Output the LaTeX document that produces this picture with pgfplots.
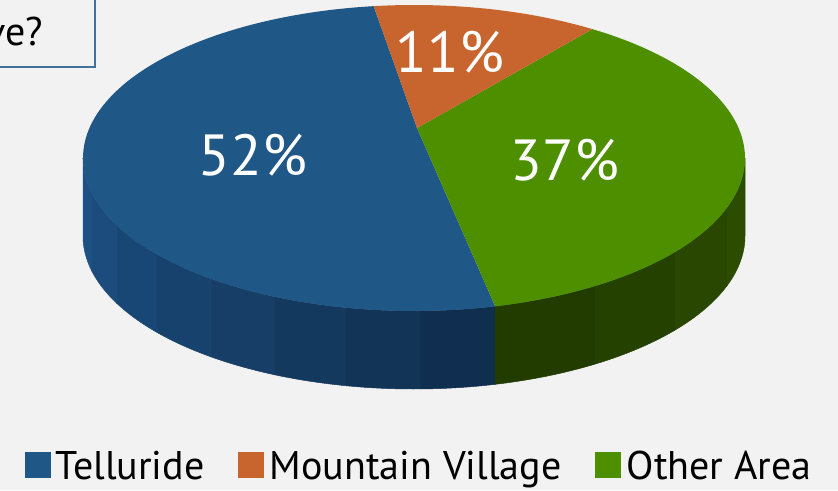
\documentclass[border=0pt]{standalone}
\usepackage{pgfplots}
\pgfplotsset{compat=1.18}
\usepackage{pgfplotstable}
\usepackage{fontspec}
\setmainfont{PT Sans}
\definecolor{bgc}{HTML}{F2F2F2}
\definecolor{cT}{HTML}{1F5787}
\definecolor{cM}{HTML}{C8652E}
\definecolor{cO}{HTML}{4E8F00}
\definecolor{sTa}{HTML}{1D5184}
\definecolor{sTb}{HTML}{102F50}
\definecolor{sOa}{HTML}{223C00}
\definecolor{sOb}{HTML}{2C4C00}
\definecolor{boxc}{HTML}{41719C}

\pgfplotstableread{
name share
Telluride 52
Mountain 11
Other 37
}\pietable
\pgfplotstablegetelem{0}{share}\of\pietable \let\vT\pgfplotsretval
\pgfplotstablegetelem{1}{share}\of\pietable \let\vM\pgfplotsretval
\pgfplotstablegetelem{2}{share}\of\pietable \let\vO\pgfplotsretval

\pgfmathsetmacro\aS{97}
\pgfmathsetmacro\aT{\aS+3.6*\vT}
\pgfmathsetmacro\aO{\aT+3.6*\vO}
\pgfmathsetmacro\aM{\aO+3.6*\vM}
\def\cx{414}\def\cy{158}\def\rx{331}\def\ry{153}\def\dep{78}
\def\px{417}\def\py{128}

% side band between rim angles #1 and #2
\newcommand\sidepiece[3]{%
\addplot[fill={#3}, draw={#3}, line width=0.5pt, forget plot,
  samples at={0,5,...,100,100.01,105,110,...,200}]
 ({\cx+\rx*cos((x<=100)?(#1+(#2-#1)*x/100):(#2-(#2-#1)*(x-100)/100))},
  {\cy-\ry*sin((x<=100)?(#1+(#2-#1)*x/100):(#2-(#2-#1)*(x-100)/100))+((x>100)?\dep:0)}) -- cycle;}

\begin{document}
\begin{tikzpicture}
\fill[bgc] (0,0) rectangle (838pt,490pt);
\begin{axis}[
  at={(0,0)}, anchor=south west,
  scale only axis, width=838pt, height=490pt,
  xmin=0, xmax=838, ymin=0, ymax=490, y dir=reverse,
  hide axis, clip=false,
  legend columns=3,
  legend style={at={(axis cs:419,466)}, anchor=center, draw=none, fill=none,
    font=\fontsize{40}{44}\selectfont, inner sep=0pt,
    /tikz/every odd column/.append style={column sep=4pt},
    /tikz/every even column/.append style={column sep=32pt}},
  legend image code/.code={\fill[#1] (0pt,-11pt) rectangle (25pt,14pt);},
]
\draw[boxc, line width=2pt] (axis cs:95,0) -- (axis cs:95,67) -- (axis cs:0,67);
\node[anchor=base east, font=\fontsize{40}{44}\selectfont, inner sep=0pt] at (axis cs:43,45) {ve?};

% sides (front half of the cylinder), banded to imitate shading
\pgfmathsetmacro\st{(\aT-180)/8}
\pgfmathsetmacro\bA{180+\st}
\pgfmathsetmacro\bB{180+2*\st}
\pgfmathsetmacro\bC{180+3*\st}
\pgfmathsetmacro\bD{180+4*\st}
\pgfmathsetmacro\bE{180+5*\st}
\pgfmathsetmacro\bF{180+6*\st}
\pgfmathsetmacro\bG{180+7*\st}
\pgfmathsetmacro\gS{(360-\aT)/4}
\pgfmathsetmacro\gA{\aT+\gS}
\pgfmathsetmacro\gB{\aT+2*\gS}
\pgfmathsetmacro\gC{\aT+3*\gS}
\sidepiece{180}{\bA}{sTa}
\sidepiece{\bA}{\bB}{sTa!86!sTb}
\sidepiece{\bB}{\bC}{sTa!71!sTb}
\sidepiece{\bC}{\bD}{sTa!57!sTb}
\sidepiece{\bD}{\bE}{sTa!43!sTb}
\sidepiece{\bE}{\bF}{sTa!29!sTb}
\sidepiece{\bF}{\bG}{sTa!14!sTb}
\sidepiece{\bG}{\aT}{sTb}
\sidepiece{\aT}{\gA}{sOa}
\sidepiece{\gA}{\gB}{sOa!67!sOb}
\sidepiece{\gB}{\gC}{sOa!33!sOb}
\sidepiece{\gC}{360}{sOb}

% top wedges
\addplot[fill=cT, draw=none, domain=\aS:\aT, samples=120, forget plot] ({\cx+\rx*cos(x)},{\cy-\ry*sin(x)}) -- (axis cs:\px,\py) -- cycle;
\addplot[fill=cO, draw=none, domain=\aT:\aO, samples=100, forget plot] ({\cx+\rx*cos(x)},{\cy-\ry*sin(x)}) -- (axis cs:\px,\py) -- cycle;
\addplot[fill=cM, draw=none, domain=\aO:\aM, samples=40, forget plot] ({\cx+\rx*cos(x)},{\cy-\ry*sin(x)}) -- (axis cs:\px,\py) -- cycle;

\node[text=white, font=\fontsize{58}{62}\selectfont] at (axis cs:253,155) {52\%};
\node[text=white, font=\fontsize{58}{62}\selectfont] at (axis cs:450,52) {11\%};
\node[text=white, font=\fontsize{58}{62}\selectfont] at (axis cs:565,160) {37\%};

\addlegendimage{cT}
\addlegendentry{Telluride}
\addlegendimage{cM}
\addlegendentry{Mountain Village}
\addlegendimage{cO}
\addlegendentry{Other Area}
\end{axis}
\pgfresetboundingbox
\path[use as bounding box] (0,0) rectangle (838pt,490pt);
\end{tikzpicture}
\end{document}
